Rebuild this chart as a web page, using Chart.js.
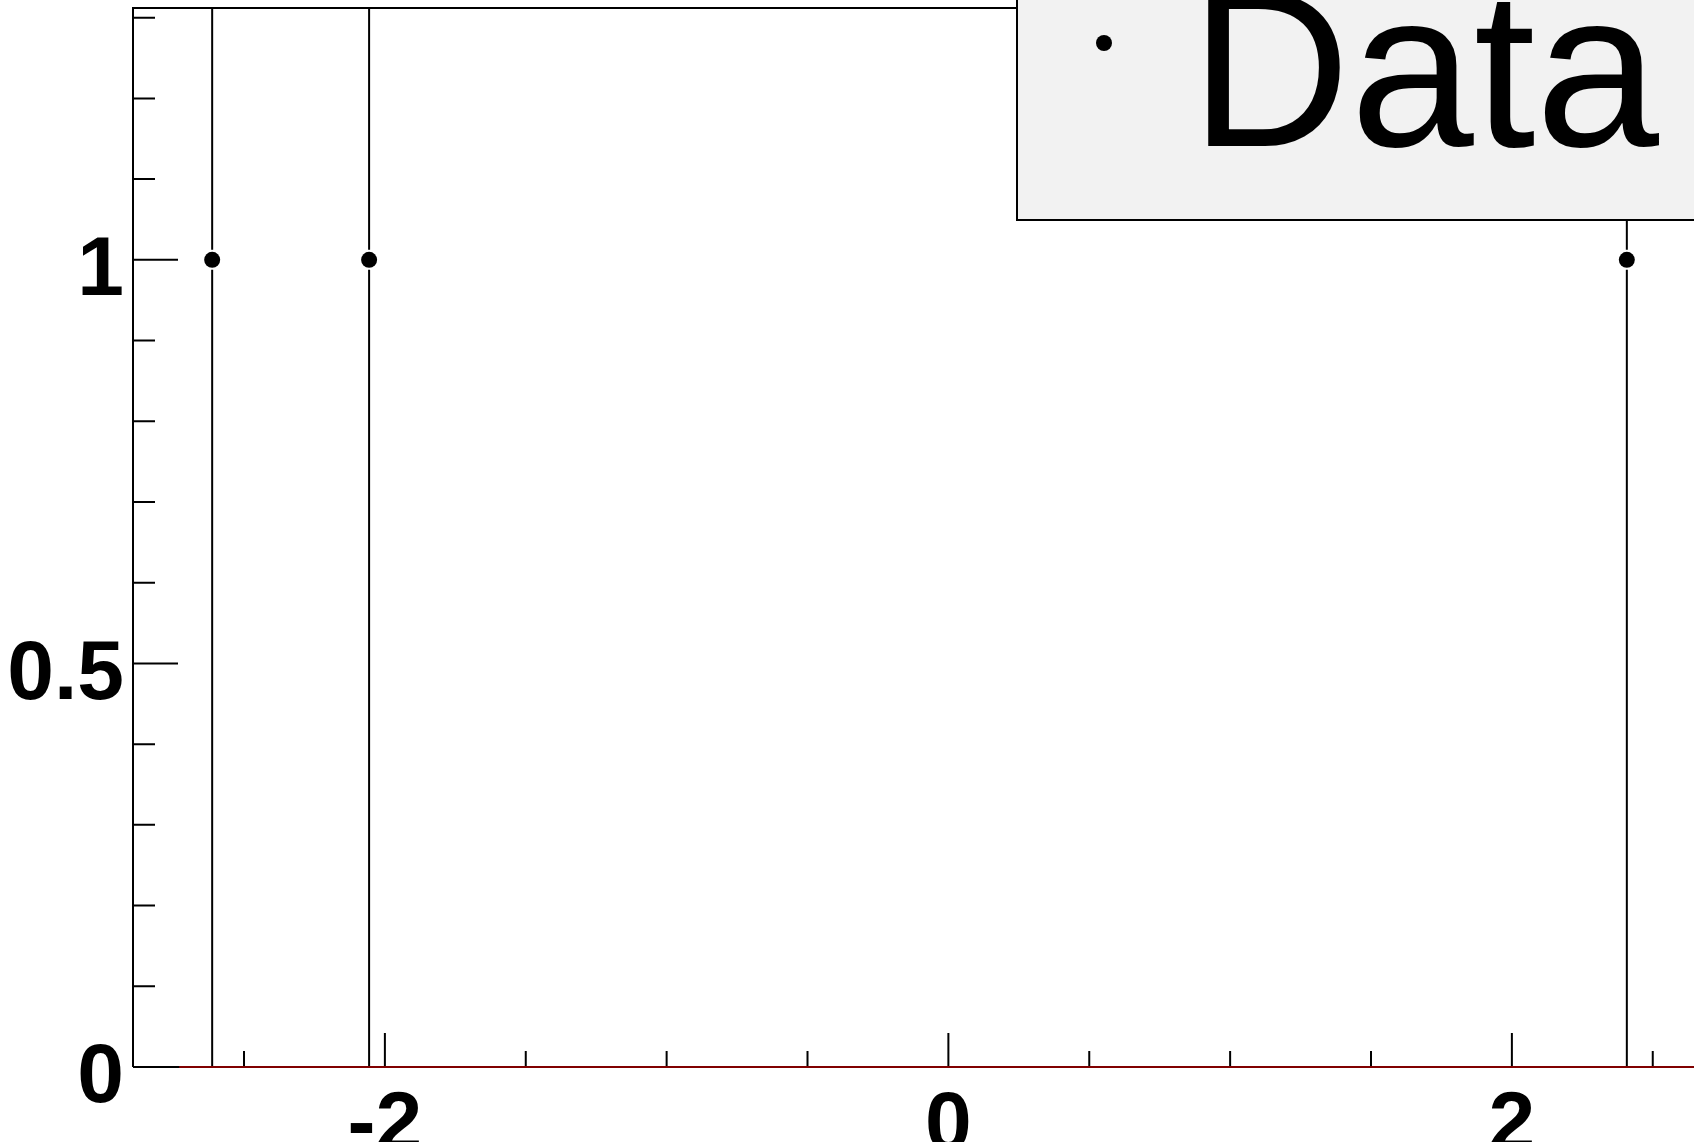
<!DOCTYPE html>
<html>
<head>
<meta charset="utf-8">
<script src="https://cdn.jsdelivr.net/npm/chart.js@4.4.1/dist/chart.umd.min.js"></script>
<style>
  html, body { margin: 0; padding: 0; background: #fff; overflow: hidden; }
</style>
</head>
<body>
<canvas id="plot" width="1694" height="1142"></canvas>
<script>
// points
const xValues = [-2.613, -2.056, 2.408]
const yValues = [1, 1, 1]
const yErrors = [1, 1, 1]
// flat dark red line along zero
const zeroLineX = [-2.73, 2.7]
const zeroLineY = [0, 0]

const xTickValues = [-2, 0, 2]
const yTickValues = [0, 0.5, 1]
const xMinorTicks = [-2.5, -1.5, -1, -0.5, 0.5, 1, 1.5, 2.5]
const yMinorTicks = [0.1, 0.2, 0.3, 0.4, 0.6, 0.7, 0.8, 0.9, 1.1, 1.2, 1.3]
const legendLabel = 'Data'

const labelFont = { family: '"Liberation Sans", Arial, sans-serif', size: 84, weight: 'bold', lineHeight: 1 }

const rootFrame = {
  id: 'rootFrame',
  beforeDatasetsDraw(chart) {
    const { ctx, chartArea: a, scales: { x, y } } = chart
    ctx.save()
    ctx.strokeStyle = '#000'
    ctx.lineWidth = 2
    ctx.beginPath()
    ctx.moveTo(a.left, a.bottom)
    ctx.lineTo(a.left, a.top)
    ctx.lineTo(a.right + 20, a.top)
    ctx.moveTo(a.left, a.bottom)
    ctx.lineTo(a.right + 20, a.bottom)
    yTickValues.forEach(v => {
      const p = y.getPixelForValue(v)
      ctx.moveTo(a.left, p); ctx.lineTo(a.left + 45, p)
    })
    yMinorTicks.forEach(v => {
      const p = y.getPixelForValue(v)
      ctx.moveTo(a.left, p); ctx.lineTo(a.left + 22, p)
    })
    xTickValues.forEach(v => {
      const p = x.getPixelForValue(v)
      ctx.moveTo(p, a.bottom); ctx.lineTo(p, a.bottom - 34)
    })
    xMinorTicks.forEach(v => {
      const p = x.getPixelForValue(v)
      ctx.moveTo(p, a.bottom); ctx.lineTo(p, a.bottom - 16)
    })
    ctx.stroke()

    // error bars, with a little gap round the marker
    ctx.beginPath()
    ctx.rect(a.left, a.top, a.right - a.left + 20, a.bottom - a.top)
    ctx.clip()
    ctx.beginPath()
    const meta = chart.getDatasetMeta(0)
    meta.data.forEach((pt, i) => {
      const top = y.getPixelForValue(yValues[i] + yErrors[i])
      const bot = y.getPixelForValue(yValues[i] - yErrors[i])
      ctx.moveTo(pt.x, top); ctx.lineTo(pt.x, pt.y - 10)
      ctx.moveTo(pt.x, pt.y + 10); ctx.lineTo(pt.x, bot)
    })
    ctx.stroke()
    ctx.restore()
  },
  afterDraw(chart) {
    const { ctx } = chart
    ctx.save()
    ctx.fillStyle = '#f2f2f2'
    ctx.strokeStyle = '#000'
    ctx.lineWidth = 2
    ctx.fillRect(1017, -10, 700, 230)
    ctx.strokeRect(1017, -10, 700, 230)
    ctx.fillStyle = '#000'
    ctx.beginPath()
    ctx.arc(1104, 43, 8, 0, Math.PI * 2)
    ctx.fill()
    ctx.font = '222px "Liberation Sans", Arial, sans-serif'
    ctx.textBaseline = 'alphabetic'
    ctx.fillText(chart.data.datasets[0].label, 1190, 146)
    ctx.restore()
  }
}

new Chart(document.getElementById('plot'), {
  type: 'scatter',
  data: {
    datasets: [
      {
        label: legendLabel,
        data: xValues.map((v, i) => ({ x: v, y: yValues[i] })),
        backgroundColor: '#000',
        borderColor: '#000',
        pointRadius: 8,
        pointBorderWidth: 0,
        showLine: false
      },
      {
        label: 'zero',
        type: 'line',
        data: zeroLineX.map((v, i) => ({ x: v, y: zeroLineY[i] })),
        borderColor: '#800000',
        borderWidth: 2,
        pointRadius: 0,
        clip: { left: 4, top: 4, bottom: 4, right: 30 }
      }
    ]
  },
  options: {
    responsive: false,
    animation: false,
    devicePixelRatio: 1,
    layout: { padding: { top: 8, left: 0, right: 0, bottom: 0 } },
    plugins: { legend: { display: false }, tooltip: { enabled: false } },
    scales: {
      x: {
        type: 'linear',
        position: 'bottom',
        min: -2.894,
        max: 2.618,
        grid: { display: false },
        border: { display: false },
        ticks: { font: labelFont, color: '#000', padding: 10, maxRotation: 0, autoSkip: false, callback: v => String(v) },
        afterBuildTicks: s => { s.ticks = xTickValues.map(v => ({ value: v })) },
        afterFit: s => { s.height = 75; s.paddingLeft = 0; s.paddingRight = 0 }
      },
      y: {
        type: 'linear',
        min: 0,
        max: 1.312,
        grid: { display: false },
        border: { display: false },
        ticks: { font: labelFont, color: '#000', padding: 1, labelOffset: 12, autoSkip: false, callback: v => String(v) },
        afterBuildTicks: s => { s.ticks = yTickValues.map(v => ({ value: v })) },
        afterFit: s => { s.width = 133; s.paddingTop = 0; s.paddingBottom = 0 }
      }
    }
  },
  plugins: [rootFrame]
})
</script>
</body>
</html>
